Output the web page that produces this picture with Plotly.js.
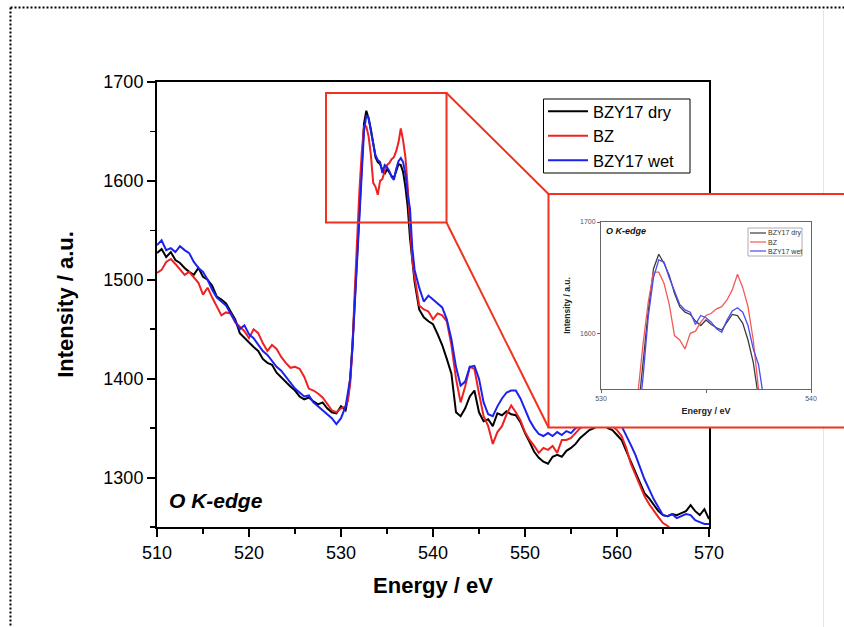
<!DOCTYPE html>
<html><head><meta charset="utf-8">
<script src="https://cdn.plot.ly/plotly-3.0.1.min.js"></script>
<style>html,body{margin:0;padding:0;background:#fff;}#chart{width:844px;height:627px;}</style>
</head><body><div id="chart"></div>
<script>
// ---------- data ----------
const energy = [
510,510.5,511,511.5,512,512.5,513,513.5,514,514.5,
515,515.5,516,516.5,517,517.5,518,518.5,519,519.5,
520,520.5,521,521.5,522,522.5,523,523.5,524,524.5,
525,525.5,526,526.5,527,527.5,528,528.5,529,529.5,
530,530.5,
530.75,531,531.25,531.5,531.75,532,532.25,532.5,532.75,533,
533.25,533.5,533.75,534,534.25,534.5,534.75,535,535.25,535.5,
535.75,536,536.25,536.5,536.75,537,537.25,537.5,537.75,538,
538.5,539,539.5,540,540.5,541,541.5,542,542.5,543,
543.5,544,544.5,545,545.5,546,546.5,547,547.5,548,
548.5,549,549.5,550,550.5,551,551.5,552,552.5,553,
553.5,554,554.5,555,555.5,556,556.5,557,557.5,558,
558.5,559,559.5,560,560.5,561,561.5,562,562.5,563,
563.5,564,564.5,565,565.5,566,566.5,567,567.5,568,
568.5,569,569.5,570];

const bzy17Dry = [
1527,1531,1523,1528,1520,1517,1512,1508,1505,1512,
1503,1500,1494,1483,1480,1476,1468,1460,1446,1441,
1436,1432,1428,1420,1416,1414,1406,1401,1397,1392,
1388,1382,1379,1381,1377,1374,1376,1370,1366,1365,
1372,1368,
1380,1400,1435,1480,1525,1572,1620,1658,1671,1663,
1652,1636,1624,1619,1617,1611,1607,1612,1608,1605,
1603,1610,1617,1616,1609,1594,1574,1542,1519,1498,
1470,1462,1458,1455,1445,1434,1420,1405,1366,1362,
1370,1382,1388,1366,1357,1359,1352,1365,1363,1367,
1364,1363,1356,1345,1336,1326,1320,1316,1314,1321,
1323,1321,1327,1330,1334,1340,1344,1348,1350,1353,
1356,1350,1348,1343,1338,1327,1316,1305,1295,1284,
1279,1273,1266,1262,1261,1263,1262,1264,1266,1272,
1266,1262,1268,1258];

const bz = [
1507,1510,1518,1521,1516,1510,1505,1508,1502,1497,
1485,1492,1482,1473,1464,1467,1466,1457,1452,1448,
1441,1450,1446,1436,1428,1434,1430,1422,1416,1411,
1412,1410,1402,1390,1388,1385,1381,1375,1368,1366,
1370,1372,
1378,1395,1432,1490,1545,1590,1628,1655,1655,1645,
1626,1598,1594,1586,1600,1602,1610,1616,1618,1622,
1624,1630,1639,1653,1641,1624,1594,1550,1520,1503,
1474,1470,1468,1460,1466,1464,1458,1434,1400,1376,
1392,1412,1410,1385,1362,1352,1334,1346,1352,1364,
1373,1366,1358,1346,1338,1332,1325,1330,1328,1332,
1325,1338,1338,1340,1345,1350,1352,1355,1358,1362,
1360,1356,1352,1348,1342,1330,1314,1303,1293,1281,
1273,1266,1260,1254,1251,1247,null,null,null,null,
null,null,null,null];

const bzy17Wet = [
1535,1540,1530,1532,1528,1534,1530,1527,1518,1512,
1508,1500,1490,1482,1478,1474,1466,1458,1450,1454,
1445,1441,1434,1428,1424,1418,1412,1408,1402,1396,
1390,1386,1382,1383,1376,1372,1368,1364,1360,1354,
1360,1372,
1385,1400,1432,1475,1515,1560,1615,1650,1666,1664,
1650,1638,1626,1621,1619,1608,1616,1614,1610,1604,
1601,1612,1620,1623,1619,1607,1586,1572,1532,1510,
1492,1478,1484,1480,1476,1472,1460,1440,1412,1393,
1397,1412,1413,1400,1376,1364,1362,1372,1380,1386,
1388,1388,1380,1368,1358,1350,1344,1342,1345,1342,
1346,1343,1347,1345,1350,1352,1356,1360,1363,1366,
1370,1368,1364,1360,1352,1343,1333,1323,1310,1298,
1288,1278,1270,1262,1261,1263,1259,1261,1263,1262,
1257,1255,1253,1253];

const seriesNames = ['BZY17 dry', 'BZ', 'BZY17 wet'];
const xTickVals = [510, 520, 530, 540, 550, 560, 570];
const xMinorTickVals = [515, 525, 535, 545, 555, 565];
const yTickVals = [1300, 1400, 1500, 1600, 1700];
const yMinorTickVals = [1250, 1350, 1450, 1550, 1650];
const insetXTickVals = [530, 535, 540];
const insetXTickText = ['530', '', '540'];
const insetYTickVals = [1600, 1700];

// ---------- drawing ----------
const W = 844, H = 627;
const fx = p => p / W;
const fy = p => 1 - p / H;
const FONT = '"Liberation Sans", Arial, Helvetica, sans-serif';
const RED = '#f0321e';
const colors = ['#000000', '#ee2222', '#1c22ee'];
const insetColors = ['#3c3c3c', '#f25a5a', '#4b4bf2'];
const seriesData = [bzy17Dry, bz, bzy17Wet];

const traces = [];
seriesData.forEach((ys, i) => traces.push({
  type: 'scatter', mode: 'lines', x: energy, y: ys, name: seriesNames[i],
  line: {color: colors[i], width: 2}, xaxis: 'x', yaxis: 'y', hoverinfo: 'skip'
}));
// white cover panel for the inset (its own subplot background)
traces.push({type: 'scatter', mode: 'lines', x: [], y: [], xaxis: 'x2', yaxis: 'y2',
  showlegend: false, hoverinfo: 'skip'});
seriesData.forEach((ys, i) => traces.push({
  type: 'scatter', mode: 'lines', x: energy, y: ys, name: seriesNames[i] + ' (inset)',
  line: {color: insetColors[i], width: 1.3}, xaxis: 'x3', yaxis: 'y3',
  showlegend: false, hoverinfo: 'skip'
}));

const shapes = [
  // dotted page frame
  {type: 'line', xref: 'paper', yref: 'paper', x0: fx(10.5), x1: 1, y0: fy(7.5), y1: fy(7.5),
   line: {color: '#000', width: 2, dash: '2px,2px'}, layer: 'above'},
  {type: 'line', xref: 'paper', yref: 'paper', x0: fx(10.5), x1: fx(10.5), y0: fy(7.5), y1: 0,
   line: {color: '#000', width: 2, dash: '2px,2px'}, layer: 'above'},
  {type: 'line', xref: 'paper', yref: 'paper', x0: fx(823.5), x1: fx(823.5), y0: fy(10), y1: 0,
   line: {color: '#e4e4e4', width: 1}, layer: 'below'},
  // main legend frame
  {type: 'rect', xref: 'paper', yref: 'paper', x0: fx(543.5), x1: fx(690), y0: fy(173), y1: fy(99),
   line: {color: '#000', width: 1}, layer: 'above'},
  // zoom box
  {type: 'rect', xref: 'paper', yref: 'paper', x0: fx(326), x1: fx(446.5), y0: fy(222.5), y1: fy(93),
   line: {color: RED, width: 2}, layer: 'above'},
  // inset frame
  {type: 'rect', xref: 'paper', yref: 'paper', x0: fx(548.5), x1: 1.01, y0: fy(427.5), y1: fy(194),
   line: {color: RED, width: 2}, layer: 'above'},
  // connectors
  {type: 'line', xref: 'paper', yref: 'paper', x0: fx(446.5), y0: fy(93), x1: fx(548.5), y1: fy(194),
   line: {color: RED, width: 2}, layer: 'above'},
  {type: 'line', xref: 'paper', yref: 'paper', x0: fx(446.5), y0: fy(222.5), x1: fx(548.5), y1: fy(427.5),
   line: {color: RED, width: 2}, layer: 'above'},
  // inset legend box
  {type: 'rect', xref: 'paper', yref: 'paper', x0: fx(748), x1: fx(802), y0: fy(256), y1: fy(228),
   line: {color: '#9a9a9a', width: 0.8}, layer: 'above'}
];

const annotations = [
  {xref: 'paper', yref: 'paper', x: fx(167), y: fy(501), xanchor: 'left', yanchor: 'middle',
   text: '<b><i>O K-edge</i></b>', showarrow: false, font: {family: FONT, size: 21, color: '#000'}},
  {xref: 'paper', yref: 'paper', x: fx(604), y: fy(231), xanchor: 'left', yanchor: 'middle',
   text: '<b><i>O K-edge</i></b>', showarrow: false, font: {family: FONT, size: 9, color: '#111'}}
];

const insetLegendRows = [233, 242, 251];
seriesNames.forEach((n, i) => {
  shapes.push({type: 'line', xref: 'paper', yref: 'paper', x0: fx(750), x1: fx(766),
    y0: fy(insetLegendRows[i]), y1: fy(insetLegendRows[i]),
    line: {color: insetColors[i], width: 1.2}, layer: 'above'});
  annotations.push({xref: 'paper', yref: 'paper', x: fx(766), y: fy(insetLegendRows[i]),
    xanchor: 'left', yanchor: 'middle', text: n, showarrow: false,
    font: {family: FONT, size: 7, color: '#333'}});
});

const layout = {
  width: W, height: H,
  margin: {l: 0, r: 0, t: 0, b: 0},
  paper_bgcolor: '#ffffff', plot_bgcolor: '#ffffff',
  showlegend: true,
  legend: {x: fx(543), y: fy(94), xanchor: 'left', yanchor: 'top',
    borderwidth: 0, bgcolor: 'rgba(0,0,0,0)', itemwidth: 40,
    font: {family: FONT, size: 16.5, color: '#000'}, tracegroupgap: 0},
  xaxis: {domain: [fx(157), fx(709)], range: [510, 570], anchor: 'y',
    showline: true, linecolor: '#000', linewidth: 2, mirror: true,
    ticks: 'outside', ticklen: 8, tickwidth: 2, tickcolor: '#000',
    tickvals: xTickVals, ticktext: xTickVals.map(String),
    minor: {tickvals: xMinorTickVals, ticks: 'outside', ticklen: 5, tickwidth: 1.5, tickcolor: '#000'},
    tickfont: {family: FONT, size: 18, color: '#000'},
    showgrid: false, zeroline: false,
    title: {text: '<b>Energy / eV</b>', font: {family: FONT, size: 22, color: '#000'}, standoff: 16}},
  yaxis: {domain: [fy(527), fy(82)], range: [1250, 1700], anchor: 'x',
    showline: true, linecolor: '#000', linewidth: 2, mirror: true,
    ticks: 'outside', ticklen: 8, tickwidth: 2, tickcolor: '#000',
    tickvals: yTickVals, ticktext: yTickVals.map(String),
    minor: {tickvals: yMinorTickVals, ticks: 'outside', ticklen: 5, tickwidth: 1.5, tickcolor: '#000'},
    tickfont: {family: FONT, size: 18, color: '#000'},
    showgrid: false, zeroline: false,
    title: {text: '<b>Intensity / a.u.</b>', font: {family: FONT, size: 22, color: '#000'}, standoff: 24}},
  xaxis2: {domain: [fx(548.5), 1], range: [0, 1], anchor: 'y2', visible: false},
  yaxis2: {domain: [fy(427.5), fy(194)], range: [0, 1], anchor: 'x2', visible: false},
  xaxis3: {domain: [fx(601), fx(811)], range: [530, 540], anchor: 'y3',
    showline: true, linecolor: '#666', linewidth: 1, mirror: true,
    ticks: 'outside', ticklen: 3, tickwidth: 1, tickcolor: '#666',
    tickvals: insetXTickVals, ticktext: insetXTickText,
    tickfont: {family: FONT, size: 7, color: '#555'},
    showgrid: false, zeroline: false,
    title: {text: '<b>Energy / eV</b>', font: {family: FONT, size: 9, color: '#222'}, standoff: 6}},
  yaxis3: {domain: [fy(389), fy(222)], range: [1550, 1700], anchor: 'x3',
    showline: true, linecolor: '#666', linewidth: 1, mirror: true,
    ticks: 'outside', ticklen: 3, tickwidth: 1, tickcolor: '#666',
    tickvals: insetYTickVals, ticktext: insetYTickVals.map(String),
    tickfont: {family: FONT, size: 7, color: '#555'},
    showgrid: false, zeroline: false,
    title: {text: '<b>Intensity / a.u.</b>', font: {family: FONT, size: 8.5, color: '#222'}, standoff: 8}},
  shapes: shapes,
  annotations: annotations
};

Plotly.newPlot('chart', traces, layout, {staticPlot: true, displayModeBar: false});
</script>
</body></html>
